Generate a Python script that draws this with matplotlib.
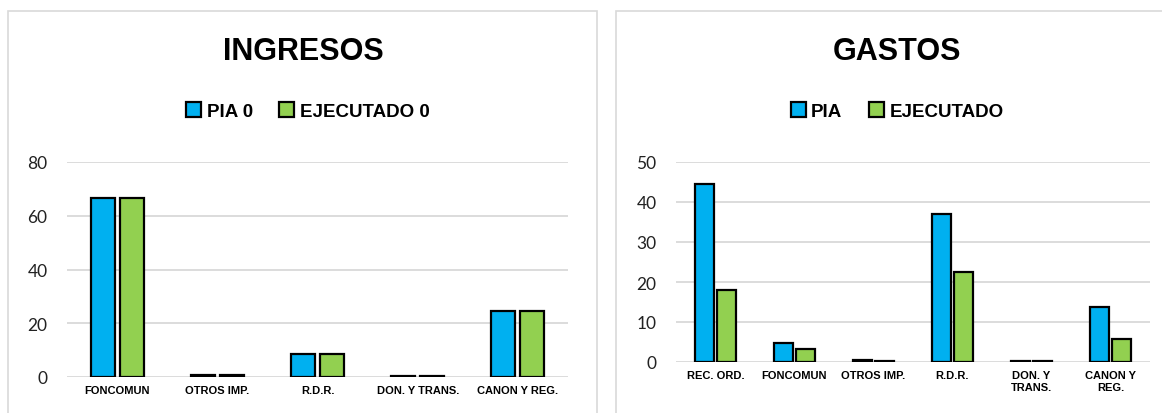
import matplotlib
matplotlib.use("Agg")
import matplotlib.pyplot as plt
from matplotlib.patches import Rectangle, Patch
import numpy as np

# Data
ing_categories = ["FONCOMUN", "OTROS IMP.", "R.D.R.", "DON. Y TRANS.", "CANON Y REG."]
ing_pia = [66.5, 0.8, 8.5, 0.5, 24.5]
ing_ejec = [66.5, 0.6, 8.5, 0.5, 24.5]
ing_ticks = [0, 20, 40, 60, 80]

gas_categories = ["REC. ORD.", "FONCOMUN", "OTROS IMP.", "R.D.R.", "DON. Y\nTRANS.", "CANON Y\nREG."]
gas_pia = [44.5, 4.7, 0.5, 37.0, 0.3, 13.7]
gas_ejec = [18.0, 3.2, 0.3, 22.5, 0.2, 5.8]
gas_ticks = [0, 10, 20, 30, 40, 50]

BLUE = "#00B0F0"
GREEN = "#92D050"
GRID = "#D9D9D9"

W, H = 1162, 414
fig = plt.figure(figsize=(W / 100, H / 100), dpi=100)

def fx(px):
    return px / W

def fy(py):
    return 1 - py / H

# panel borders
for x0, x1 in [(8, 597), (616, 1170)]:
    fig.patches.append(Rectangle((fx(x0), fy(430)), fx(x1 - x0), fy(12) - fy(430),
                                 transform=fig.transFigure, fill=False,
                                 edgecolor="#D9D9D9", linewidth=1.2))

def draw(ax_rect, cats, pia, ejec, ticks, width, off, title, labels, title_x, leg_x):
    ax = fig.add_axes(ax_rect)
    x = np.arange(len(cats))
    ax.bar(x - off, pia, width, color=BLUE, edgecolor="black", linewidth=1.6, zorder=3)
    ax.bar(x + off, ejec, width, color=GREEN, edgecolor="black", linewidth=1.6, zorder=3)
    ax.set_xlim(-0.5, len(cats) - 0.5)
    ax.set_ylim(0, ticks[-1])
    ax.set_yticks(ticks)
    ax.set_yticklabels([str(t) for t in ticks], fontsize=12.5, family="Lato", color="#222222")
    ax.set_xticks(x)
    ax.set_xticklabels(cats, fontsize=8, fontweight="bold", family="Liberation Sans",
                       linespacing=1.2)
    ax.tick_params(axis="y", length=0, pad=14)
    ax.tick_params(axis="x", length=0, pad=6)
    ax.grid(axis="y", color=GRID, linewidth=1.3, zorder=0)
    ax.set_axisbelow(True)
    for s in ax.spines.values():
        s.set_visible(False)
    fig.text(fx(title_x), fy(52), title, ha="center", va="center", fontsize=22,
             fontweight="bold", family="Liberation Sans")
    handles = [Patch(facecolor=BLUE, edgecolor="black", linewidth=1.6),
               Patch(facecolor=GREEN, edgecolor="black", linewidth=1.6)]
    fig.legend(handles, labels, loc="center", bbox_to_anchor=(fx(leg_x), fy(112)), ncol=2,
               frameon=False, prop={"family": "Liberation Sans", "weight": "bold", "size": 13.5},
               handlelength=0.8, handleheight=0.9, handletextpad=0.3, columnspacing=1.4)
    return ax

draw([fx(67), fy(378), fx(568 - 67), fy(163) - fy(378)], ing_categories, ing_pia, ing_ejec,
     ing_ticks, 0.24, 0.145, "INGRESOS", ["PIA 0", "EJECUTADO 0"], 303, 308)
draw([fx(676), fy(363), fx(1150 - 676), fy(163) - fy(363)], gas_categories, gas_pia, gas_ejec,
     gas_ticks, 0.23, 0.14, "GASTOS", ["PIA", "EJECUTADO"], 897, 897)

fig.savefig("out.png", dpi=100)
